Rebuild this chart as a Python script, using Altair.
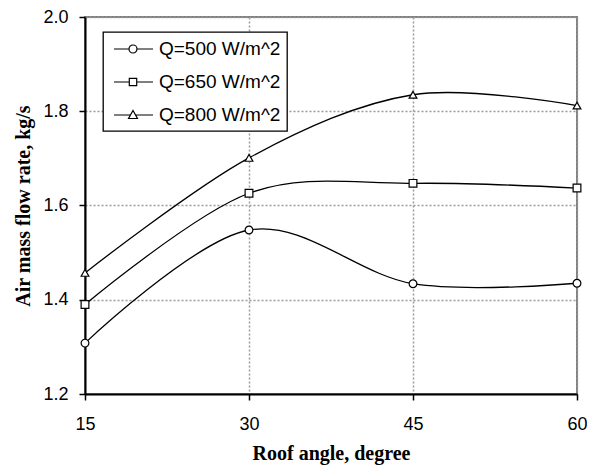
import altair as alt
import pandas as pd

angles = [15, 30, 45, 60]
series_names = ["Q=500 W/m^2", "Q=650 W/m^2", "Q=800 W/m^2"]
q500 = [1.308, 1.548, 1.434, 1.435]
q650 = [1.390, 1.626, 1.647, 1.637]
q800 = [1.457, 1.701, 1.835, 1.812]
y_ticks = [1.2, 1.4, 1.6, 1.8, 2.0]

rows = []
for name, vals in zip(series_names, [q500, q650, q800]):
    for a, v in zip(angles, vals):
        rows.append({"angle": a, "flow": v, "series": name})
df = pd.DataFrame(rows)

marker_shapes = ["circle", "square", "triangle-up"]
legend_shapes = [
    "M-0.6,0L0.9,0M1.7,0L3.3,0M1.7,0A0.4,0.4,0,1,1,0.9,0A0.4,0.4,0,1,1,1.7,0Z",
    "M-0.6,0L0.93,0M1.67,0L3.3,0M0.93,-0.37L1.67,-0.37L1.67,0.37L0.93,0.37Z",
    "M-0.6,0L1.05,0M1.55,0L3.3,0M1.3,-0.45L1.75,0.35L0.85,0.35Z",
]

x = alt.X(
    "angle:Q",
    scale=alt.Scale(domain=[15, 60], nice=False, zero=False),
    axis=alt.Axis(values=angles, title="Roof angle, degree", labelPadding=15,
                  titlePadding=10, labelFlush=False),
)
y = alt.Y(
    "flow:Q",
    scale=alt.Scale(domain=[1.2, 2.0], nice=False, zero=False),
    axis=alt.Axis(values=y_ticks, format=".1f", title="Air mass flow rate, kg/s",
                  labelPadding=11, titlePadding=9, labelFlush=False),
)

base = alt.Chart(df)

lines = base.mark_line(interpolate="cardinal", color="black", strokeWidth=1.3).encode(
    x=x, y=y, detail="series:N"
)

points = base.mark_point(filled=True, fill="white", stroke="black", strokeWidth=1.2,
                         size=60, opacity=1).encode(
    x=x, y=y,
    shape=alt.Shape("series:N", scale=alt.Scale(domain=series_names, range=marker_shapes),
                    legend=None),
)

legend_layer = base.transform_filter("false").mark_point(
    filled=False, color="black", strokeWidth=1.2, opacity=1
).encode(
    x=x, y=y,
    shape=alt.Shape(
        "series:N",
        scale=alt.Scale(domain=series_names, range=legend_shapes),
        legend=alt.Legend(title=None, orient="none", legendX=18, legendY=15),
    ),
)

chart = (
    alt.layer(lines, points, legend_layer)
    .resolve_scale(shape="independent")
    .properties(
        width=492,
        height=377,
        autosize=alt.AutoSizeParams(type="none"),
        padding={"left": 77, "top": 9, "right": 10, "bottom": 72},
        background="white",
    )
    .configure_view(stroke="#808080", strokeWidth=2)
    .configure_axis(
        domainColor="black", domainWidth=2, tickColor="black", tickWidth=1.5, tickSize=6,
        labelFont="Liberation Sans", labelFontSize=18, labelColor="black",
        titleFont="Liberation Serif", titleFontWeight="bold", titleFontSize=20,
        titleColor="black", gridColor="#9a9a9a", gridDash=[2, 2], gridWidth=1.5,
    )
    .configure_legend(
        fillColor="white", strokeColor="black", strokeWidth=1.3, padding=6,
        labelFont="Liberation Sans", labelFontSize=19, labelColor="black",
        symbolSize=400, rowPadding=12, labelOffset=28, symbolStrokeWidth=1.2,
        symbolStrokeColor="black", cornerRadius=0,
    )
)

chart.save("out.html", embed_options={"renderer": "svg", "actions": False})
